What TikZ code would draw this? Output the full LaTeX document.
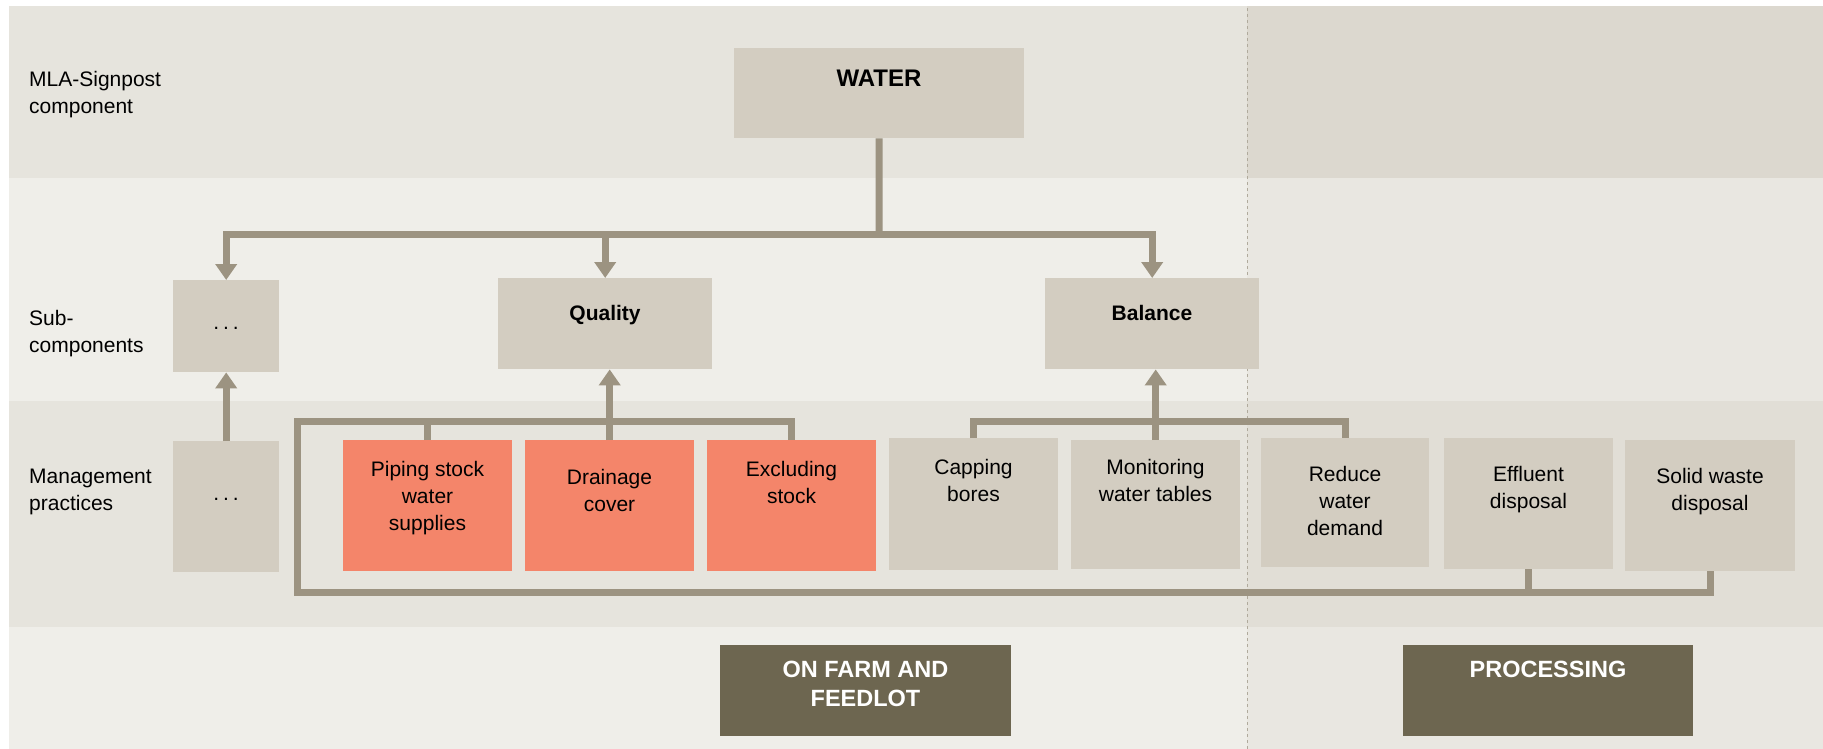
\documentclass[tikz,border=0pt]{standalone}
\usepackage{fontspec}
\setmainfont{Liberation Sans}
\usetikzlibrary{arrows.meta}
\definecolor{bgplain}{HTML}{EFEEE9}
\definecolor{bandL}{HTML}{E6E4DD}
\definecolor{rightbg}{HTML}{E9E7E1}
\definecolor{rightTop}{HTML}{DCD8CF}
\definecolor{rightLow}{HTML}{E1DED6}
\definecolor{boxc}{HTML}{D3CDC1}
\definecolor{orangec}{HTML}{F4856A}
\definecolor{darkc}{HTML}{6D6650}
\definecolor{linec}{HTML}{9C9381}
\definecolor{dashc}{HTML}{B0AA9C}
\newcommand{\wdots}{.\kern4pt.\kern4pt.}
\begin{document}
\begin{tikzpicture}[x=1pt,y=-1pt,
  box/.style={fill=boxc, inner sep=0pt, anchor=north west},
  obox/.style={fill=orangec, inner sep=0pt, anchor=north west},
  dbox/.style={fill=darkc, inner sep=0pt, anchor=north west},
  txt/.style={font=\fontsize{21}{27}\selectfont, align=center, anchor=north, inner sep=0pt},
  btxt/.style={font=\bfseries\fontsize{21}{27}\selectfont, align=center, anchor=north, inner sep=0pt},
  wtxt/.style={font=\bfseries\fontsize{23.5}{29}\selectfont, text=white, align=center, anchor=north, inner sep=0pt},
  ltxt/.style={font=\fontsize{21}{27}\selectfont, align=left, anchor=north west, inner sep=0pt},
  conn/.style={draw=linec, line width=7pt},
  arr/.style={conn, -{Triangle[length=16pt,width=21pt]}}
]
\useasboundingbox (0,0) rectangle (1823,749);
% backgrounds
\fill[white] (0,0) rectangle (1823,749);
\fill[bgplain] (9,6) rectangle (1823,749);
\fill[bandL] (9,6) rectangle (1247,178);
\fill[bandL] (9,401) rectangle (1247,627);
\fill[rightbg] (1247,6) rectangle (1823,749);
\fill[rightTop] (1247,6) rectangle (1823,178);
\fill[rightLow] (1247,401) rectangle (1823,627);
\draw[dashc, dashed, line width=1pt] (1247,8) -- (1247,749);

% row labels
\node[ltxt] (l1) at (29,71) {MLA-Signpost\\component};
\node[ltxt] (l2) at (29,310) {Sub-\\components};
\node[ltxt] (l3) at (29,469) {Management\\practices};

% boxes
\node[box, minimum width=290pt, minimum height=90pt] (water) at (734,48) {};
\node[box, minimum width=106pt, minimum height=92pt] (subdots) at (173,280) {};
\node[box, minimum width=214pt, minimum height=91pt] (quality) at (498,278) {};
\node[box, minimum width=214pt, minimum height=91pt] (balance) at (1045,278) {};
\node[box, minimum width=106pt, minimum height=131pt] (mdots) at (173,441) {};
\node[obox, minimum width=169pt, minimum height=131pt] (piping) at (343,440) {};
\node[obox, minimum width=169pt, minimum height=131pt] (drainage) at (525,440) {};
\node[obox, minimum width=169pt, minimum height=131pt] (excluding) at (707,440) {};
\node[box, minimum width=169pt, minimum height=132pt] (capping) at (889,438) {};
\node[box, minimum width=169pt, minimum height=129pt] (monitoring) at (1071,440) {};
\node[box, minimum width=168pt, minimum height=129pt] (reduce) at (1261,438) {};
\node[box, minimum width=169pt, minimum height=131pt] (effluent) at (1444,438) {};
\node[box, minimum width=170pt, minimum height=131pt] (solid) at (1625,440) {};
\node[dbox, minimum width=291pt, minimum height=91pt] (onfarm) at (720,645) {};
\node[dbox, minimum width=290pt, minimum height=91pt] (processing) at (1403,645) {};

% texts
\node[btxt, font=\bfseries\fontsize{24}{29}\selectfont] (t-water) at (879,70) {WATER};
\node[txt, anchor=base] (t-subdots) at (226,329) {\wdots};
\node[btxt] (t-quality) at (605,305) {Quality};
\node[btxt] (t-balance) at (1152,305) {Balance};
\node[txt, anchor=base] (t-mdots) at (226,500) {\wdots};
\node[txt] (t-piping) at (427.5,461) {Piping stock\\water\\supplies};
\node[txt] (t-drainage) at (609.5,469) {Drainage\\cover};
\node[txt] (t-excluding) at (791.5,461) {Excluding\\stock};
\node[txt] (t-capping) at (973.5,459) {Capping\\bores};
\node[txt] (t-monitoring) at (1155.5,459) {Monitoring\\water tables};
\node[txt] (t-reduce) at (1345,466) {Reduce\\water\\demand};
\node[txt] (t-effluent) at (1528.5,466) {Effluent\\disposal};
\node[txt] (t-solid) at (1710,468) {Solid waste\\disposal};
\node[wtxt] (t-onfarm) at (865.5,661) {ON FARM AND\\FEEDLOT};
\node[wtxt] (t-processing) at (1548,661) {PROCESSING};

% connectors: top
\coordinate (hub) at (879,234);
\draw[conn] (water.south) -- (hub);
\draw[arr] (hub) -| (subdots.north);
\draw[arr] (hub) -| (quality.north);
\draw[arr] (hub) -| (balance.north);

% management to sub-components
\draw[arr] (mdots.north) -- (subdots.south);

\coordinate (qtl) at (297,421);
\coordinate (bl) at (297,592);
\draw[conn] (excluding.north) |- (qtl) -- (bl) -| (solid.south);
\draw[conn] (piping.north) -- (piping.north |- qtl);
\draw[conn] (effluent.south) -- (effluent.south |- bl);
\draw[arr] (drainage.north) -- (drainage.north |- quality.south);

\draw[conn] (capping.north) |- (reduce.north |- qtl) -- (reduce.north);
\draw[arr] (monitoring.north) -- (monitoring.north |- balance.south);
\end{tikzpicture}
\end{document}
